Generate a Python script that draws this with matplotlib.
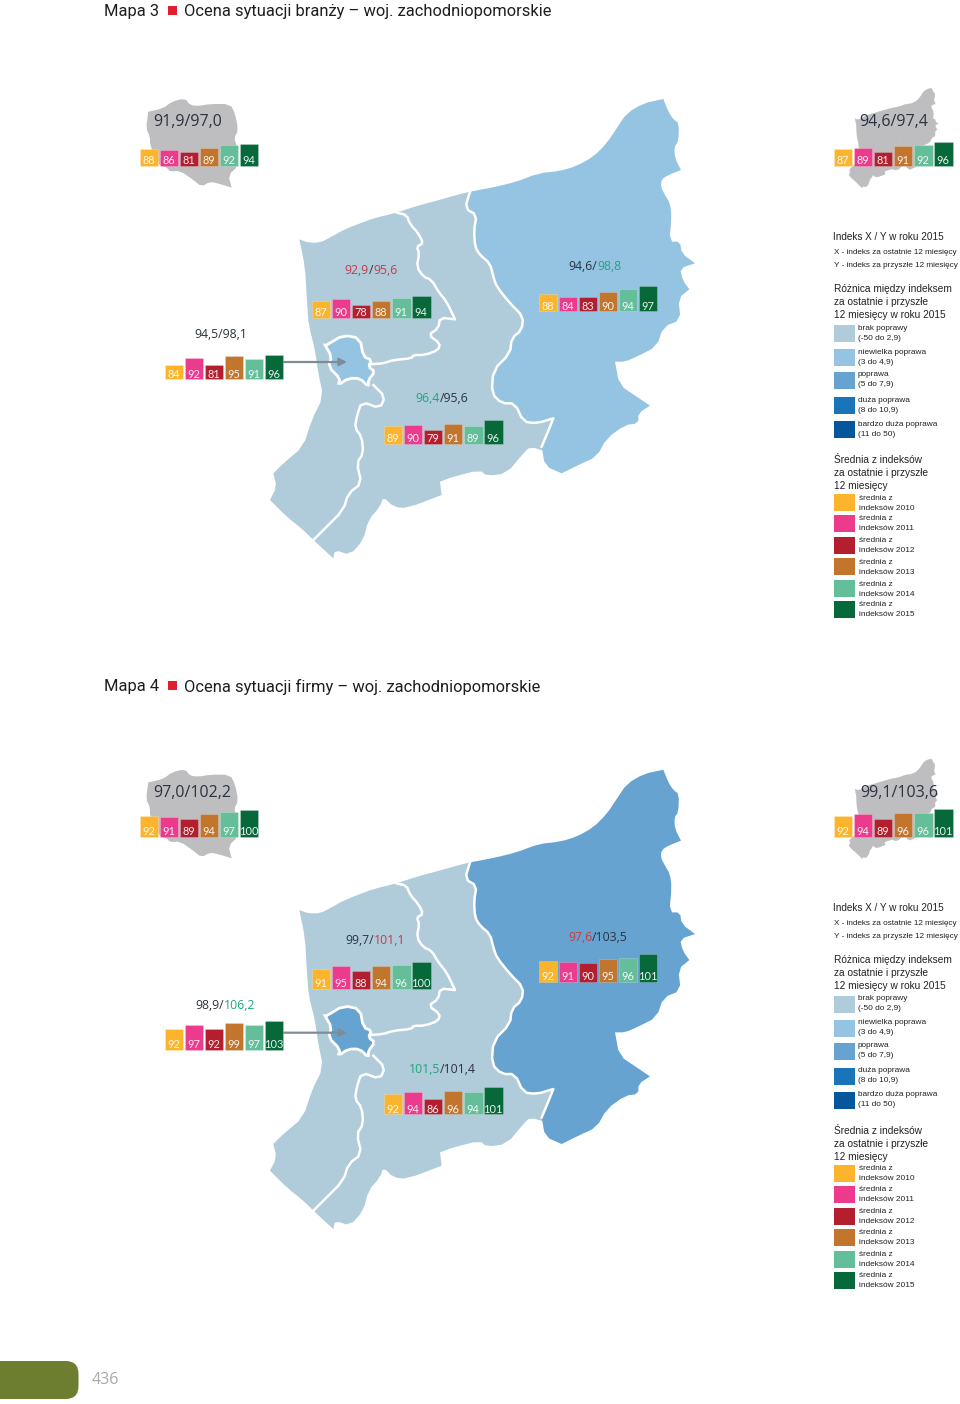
import numpy as np
import matplotlib
matplotlib.use('Agg')
import matplotlib.pyplot as plt
from matplotlib.patches import Polygon, Rectangle, FancyBboxPatch

# values of the six small bars (2010..2015)
map3_poland = [88, 86, 81, 89, 92, 94]
map3_region = [87, 89, 81, 91, 92, 96]
map3_city = [84, 92, 81, 95, 91, 96]
map3_north = [87, 90, 78, 88, 91, 94]
map3_south = [89, 90, 79, 91, 89, 96]
map3_east = [88, 84, 83, 90, 94, 97]

map4_poland = [92, 91, 89, 94, 97, 100]
map4_region = [92, 94, 89, 96, 96, 101]
map4_city = [92, 97, 92, 99, 97, 103]
map4_north = [91, 95, 88, 94, 96, 100]
map4_south = [92, 94, 86, 96, 94, 101]
map4_east = [92, 91, 90, 95, 96, 101]

bar_colors = ['#FBB42C', '#EC3A8D', '#B41F30', '#C1752D', '#65BE9A', '#07693A']

LIGHT = '#B0CBDA'
BLUE1 = '#95C3E2'
BLUE2 = '#66A3D0'
BLUE3 = '#1A75B8'
BLUE4 = '#05569B'
DARK = '#2A3340'
RED = '#C93A48'
GREEN = '#1FA67A'

# outlines (a repeated point keeps a sharp corner)
coast_z1 = [(508, 478), (535, 488), (570, 488), (605, 470), (640, 450), (690, 430), (730, 415), (800, 398),
            (860, 378), (920, 362), (980, 345), (1020, 335)]
east_edge_z3 = [(30, 305), (15, 355), (50, 375), (42, 420), (45, 470), (60, 495), (90, 520), (100, 560), (110, 590),
                (150, 640), (190, 680), (185, 720), (155, 745), (150, 790), (100, 840), (95, 910), (125, 940),
                (165, 940), (190, 995), (230, 1000), (280, 985), (280, 985), (262, 1030), (245, 1070)]
east_rest_z3 = [(30, 305), (100, 292), (170, 275), (235, 250), (300, 243), (350, 228), (400, 200), (440, 160),
                (470, 115), (500, 70), (550, 40), (610, 27), (610, 27), (625, 65), (640, 88), (657, 100), (655, 155),
                (643, 170), (645, 205), (663, 240), (663, 240), (625, 255), (605, 268), (602, 290), (615, 315),
                (630, 340), (635, 380), (628, 455), (660, 455), (665, 490), (705, 520), (705, 520), (660, 535),
                (668, 570), (688, 598), (688, 598), (655, 625), (662, 690), (610, 710), (590, 770), (530, 800),
                (495, 815), (465, 815), (465, 815), (478, 885), (530, 920), (570, 947), (570, 947), (535, 970),
                (535, 1000), (495, 1005), (440, 1045), (410, 1100), (355, 1125), (305, 1150), (305, 1150), (255, 1128),
                (245, 1070)]
south_coast_z2 = [(860, 365), (810, 350), (790, 370), (740, 430), (680, 438), (660, 420), (580, 440), (540, 455),
                  (540, 455), (545, 495), (545, 495), (440, 535), (400, 530), (370, 500), (360, 530), (325, 570),
                  (310, 630), (270, 675), (225, 660), (220, 685), (220, 685), (160, 630), (130, 600), (80, 560),
                  (30, 510), (30, 510), (50, 470), (40, 430), (40, 430), (70, 400), (130, 350), (155, 270), (190, 200),
                  (175, 130), (165, 60), (150, 0)]
west_edge_z1 = [(535, 720), (530, 650), (525, 560), (508, 478)]
north_line_z1 = [(800, 398), (830, 405), (840, 432), (865, 460), (880, 490), (860, 500), (868, 520), (860, 560),
                 (880, 590), (905, 600), (925, 635), (950, 665), (975, 718), (975, 718), (930, 713), (925, 745),
                 (895, 765), (930, 790), (925, 810), (885, 825), (850, 825), (845, 835), (790, 840), (760, 850),
                 (720, 853)]
south_line_z2 = [(340, 165), (375, 200), (360, 235), (305, 215), (290, 260), (285, 295), (305, 320), (310, 370),
                 (290, 400), (305, 460), (265, 490), (250, 540), (190, 600), (160, 630)]
city_z2 = [(200, 45), (250, 15), (300, 25), (310, 80), (335, 90), (325, 110), (345, 125), (325, 150), (325, 170),
           (300, 145), (265, 145), (235, 165), (240, 145), (205, 110), (215, 80), (195, 45)]
poland_z1 = [(55, 95), (100, 85), (125, 65), (165, 55), (180, 75), (205, 78), (240, 72), (300, 72), (315, 100),
             (325, 150), (312, 175), (320, 195), (325, 258), (295, 285), (305, 323), (305, 323), (270, 312),
             (240, 305), (215, 320), (190, 300), (150, 272), (120, 275), (110, 262), (85, 255), (60, 195), (60, 170),
             (48, 145), (55, 95)]


def crop(points, x0, y0, passes=1):
    # crop coordinates to page pixels, corners cut a little so the outlines look less angular
    pts = np.array(points, dtype=float) / 3 + [x0, y0]
    for _ in range(passes):
        a, b = pts[:-1], pts[1:]
        q = np.empty((len(a) * 2, 2))
        q[0::2] = a * 0.75 + b * 0.25
        q[1::2] = a * 0.25 + b * 0.75
        pts = np.vstack([pts[:1], q, pts[-1:]])
    return pts


coast = crop(coast_z1, 130, 80)
east_edge = crop(east_edge_z3, 460, 90)
east_rest = crop(east_rest_z3, 460, 90)
south_coast = crop(south_coast_z2, 260, 330)
west_edge = crop(west_edge_z1, 130, 80)
north_line = crop(north_line_z1, 130, 80)
south_line = crop(south_line_z2, 260, 330)
city = crop(city_z2, 260, 330)
poland = crop(poland_z1, 130, 80)

west_all = np.vstack([coast, east_edge, south_coast, west_edge])
east_all = np.vstack([east_rest, east_edge[::-1]])

fig = plt.figure(figsize=(9.6, 14.04), dpi=100)
ax = fig.add_axes([0, 0, 1, 1])
ax.set_xlim(0, 960)
ax.set_ylim(1404, 0)
ax.axis('off')


def px(size):
    return size * 0.72


def bar_height(values):
    # the small bars have no axis, this is what their heights look like in pixels
    return np.interp(values, [78, 84, 88, 94, 100, 103], [13.5, 14.5, 17.3, 22.3, 27, 29])


def draw_bars(values, left, base):
    xs = left + np.arange(6) * 20.05
    ax.bar(xs, -bar_height(values), width=18.3, bottom=base, align='edge', color=bar_colors,
           edgecolor='#FFFFFF60', linewidth=0.4, zorder=3)
    for x, v in zip(xs, values):
        ax.text(x + 9, base - 5, str(v), ha='center', va='center', color='#FFFFFFE8', fontsize=px(11),
                family='Lato', zorder=4)


def colored_text(parts, cx, y, size):
    # several colours on one line, so measure the growing string first
    r = fig.canvas.get_renderer()
    font = dict(fontsize=px(size), family='Open Sans', va='center', zorder=4)
    full = ''.join(s for s, c in parts)
    probe = ax.text(0, y, full, **font)
    total = probe.get_window_extent(r).width
    x = cx - total / 2
    done = ''
    for s, c in parts:
        offset = 0
        if done:
            probe.set_text(done + s)
            w_all = probe.get_window_extent(r).width
            probe.set_text(s)
            offset = w_all - probe.get_window_extent(r).width
        ax.text(x + offset, y, s, color=c, **font)
        done += s
    probe.remove()


def draw_legend(dy):
    font = 'Liberation Sans'
    col = '#222222'
    ax.text(833, 237 + dy, 'Indeks X / Y w roku 2015', fontsize=px(10), family=font, color=col, va='center')
    ax.text(834, 252.5 + dy, 'X - indeks za ostatnie 12 miesięcy', fontsize=px(8.1), family=font, color=col, va='center')
    ax.text(834, 265.5 + dy, 'Y - indeks za przyszłe 12 miesięcy', fontsize=px(8.1), family=font, color=col, va='center')
    for i, s in enumerate(['Różnica między indeksem', 'za ostatnie i przyszłe', '12 miesięcy w roku 2015']):
        ax.text(834, 289 + i * 13 + dy, s, fontsize=px(10.1), family=font, color=col, va='center')
    tops = [325, 349, 372, 397, 421]
    cols = [LIGHT, BLUE1, BLUE2, BLUE3, BLUE4]
    labs = [('brak poprawy', '(-50 do 2,9)'), ('niewielka poprawa', '(3 do 4,9)'), ('poprawa', '(5 do 7,9)'),
            ('duża poprawa', '(8 do 10,9)'), ('bardzo duża poprawa', '(11 do 50)')]
    for top, c, (a, b) in zip(tops, cols, labs):
        ax.add_patch(Rectangle((834, top + dy), 21, 17, color=c, lw=0))
        ax.text(858, top + 3 + dy, a, fontsize=px(8.3), family=font, color=col, va='center')
        ax.text(858, top + 13 + dy, b, fontsize=px(8.3), family=font, color=col, va='center')
    for i, s in enumerate(['Średnia z indeksów', 'za ostatnie i przyszłe', '12 miesięcy']):
        ax.text(834, 460 + i * 13 + dy, s, fontsize=px(10.1), family=font, color=col, va='center')
    tops = [494, 515, 537, 558, 580, 601]
    for top, c, year in zip(tops, bar_colors, range(2010, 2016)):
        ax.add_patch(Rectangle((834, top + dy), 21, 17, color=c, lw=0))
        ax.text(859, top + 4 + dy, 'średnia z', fontsize=px(8.3), family=font, color=col, va='center')
        ax.text(859, top + 14 + dy, f'indeksów {year}', fontsize=px(8.3), family=font, color=col, va='center')


def draw_map(dy, title_y, fill, title_no, title, bars, labels):
    ax.text(104, title_y + 1.5, f'Mapa {title_no}', fontsize=px(16.5), family='Roboto', color='#1E1E1E', va='center')
    ax.add_patch(Rectangle((168, title_y - 4), 9, 9, color='#E0202F', lw=0))
    ax.text(184, title_y + 1.5, title, fontsize=px(16.5), family='Roboto', color='#1E1E1E', va='center')

    shift = [0, dy]
    ax.add_patch(Polygon(west_all + shift, closed=True, fc=LIGHT, ec='none', zorder=1))
    ax.add_patch(Polygon(east_all + shift, closed=True, fc=fill, ec='none', zorder=1))
    ax.add_patch(Polygon(city + shift, closed=True, fc=fill, ec='white', lw=2, zorder=2))
    for line in (north_line, south_line, east_edge):
        ax.plot(line[:, 0], line[:, 1] + dy, color='white', lw=1.8, zorder=2, solid_joinstyle='round')

    # small grey maps
    ax.add_patch(Polygon(poland + shift, closed=True, fc='#BEBEC0', ec='none', zorder=1))
    for shape in (west_all, east_all):
        small = (shape - [270, 98]) * [0.21, 0.217] + [849, 88 + dy]
        ax.add_patch(Polygon(small, closed=True, fc='#BEBEC0', ec='#BEBEC0', lw=0.3, zorder=1))

    ax.annotate('', xy=(347, 362 + dy), xytext=(284, 362 + dy), zorder=3,
                arrowprops=dict(arrowstyle='-|>', color='#7F8C95', lw=1.6, shrinkA=0, shrinkB=0, mutation_scale=11))

    anchors = [(139.5, 166), (834, 166), (164.7, 379), (312, 318), (384, 443.7), (538.7, 311)]
    for values, (left, base) in zip(bars, anchors):
        draw_bars(values, left, base + dy)
    for parts, cx, y, size in labels:
        colored_text(parts, cx, y + dy + 2, size)
    draw_legend(dy)


draw_map(0, 10, BLUE1, 3, 'Ocena sytuacji branży – woj. zachodniopomorskie',
         [map3_poland, map3_region, map3_city, map3_north, map3_south, map3_east],
         [([('91,9/97,0', DARK)], 188, 120, 16),
          ([('94,6/97,4', DARK)], 894, 120, 16),
          ([('94,5/98,1', DARK)], 221, 333, 12.2),
          ([('92,9', RED), ('/', DARK), ('95,6', RED)], 371, 268, 12.2),
          ([('96,4', GREEN), ('/95,6', DARK)], 442, 397, 12.2),
          ([('94,6/', DARK), ('98,8', GREEN)], 595, 265, 12.2)])
draw_map(670.7, 685, BLUE2, 4, 'Ocena sytuacji firmy – woj. zachodniopomorskie',
         [map4_poland, map4_region, map4_city, map4_north, map4_south, map4_east],
         [([('97,0/102,2', DARK)], 192.5, 120, 16),
          ([('99,1/103,6', DARK)], 899, 120, 16),
          ([('98,9/', DARK), ('106,2', GREEN)], 225, 333, 12.2),
          ([('99,7/', DARK), ('101,1', RED)], 375, 268, 12.2),
          ([('101,5', GREEN), ('/101,4', DARK)], 442, 397, 12.2),
          ([('97,6', RED), ('/103,5', DARK)], 598, 265, 12.2)])

# page footer
ax.add_patch(FancyBboxPatch((-30, 1361), 108.5, 38, boxstyle='round,pad=0,rounding_size=13', fc='#6E7E31', ec='none'))
ax.text(92, 1380, '436', fontsize=px(16), family='Open Sans', color='#A8A8A8', va='center')

fig.savefig('out.png', dpi=100)
